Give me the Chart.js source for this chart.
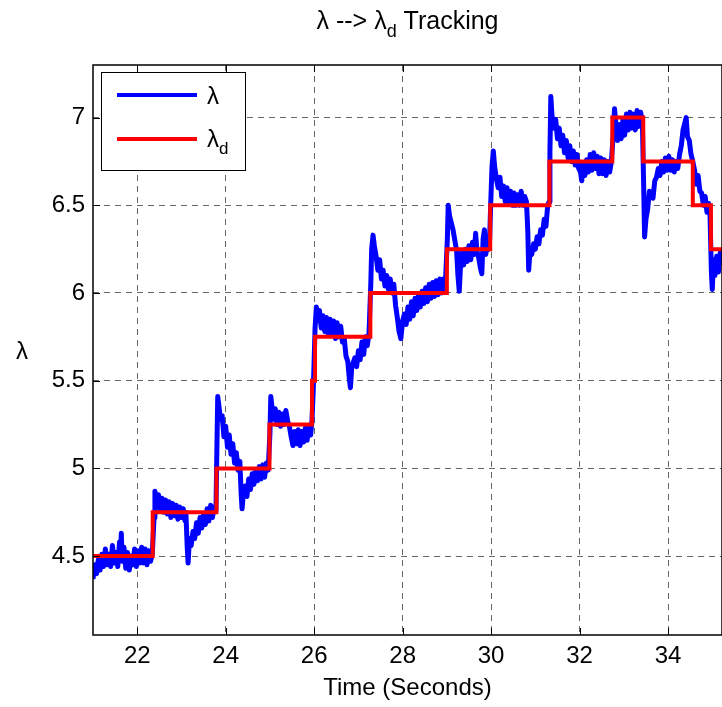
<!DOCTYPE html>
<html>
<head>
<meta charset="utf-8">
<title>Lambda tracking</title>
<script src="https://cdn.jsdelivr.net/npm/chart.js@4.4.1/dist/chart.umd.min.js"></script>
<style>
  html, body { margin: 0; padding: 0; background: #fff; overflow: hidden; }
  #wrap { width: 722px; height: 707px; }
</style>
</head>
<body>
<div id="wrap"><canvas id="trackChart" width="722" height="707"></canvas></div>
<script>
// measured lambda (blue)
const traceTime = [
  21.00, 21.04, 21.08, 21.12, 21.16, 21.20, 21.24, 21.28, 21.32, 21.36,
  21.40, 21.44, 21.48, 21.52, 21.56, 21.60, 21.62, 21.64, 21.66, 21.70,
  21.74, 21.78, 21.82, 21.86, 21.90, 21.94, 21.98, 22.02, 22.06, 22.10,
  22.14, 22.18, 22.22, 22.26, 22.30, 22.34,
  22.38, 22.40, 22.44, 22.48, 22.52, 22.56, 22.60, 22.64, 22.68, 22.72,
  22.76, 22.80, 22.84, 22.88, 22.92, 22.96, 23.00, 23.04, 23.08, 23.10,
  23.13, 23.15, 23.18, 23.22, 23.26, 23.30, 23.34, 23.38, 23.42, 23.46,
  23.50, 23.54, 23.58, 23.62, 23.66, 23.70, 23.74, 23.78,
  23.80, 23.82, 23.85, 23.88, 23.92, 23.96, 24.00, 24.04, 24.08, 24.12,
  24.16, 24.20, 24.24, 24.28, 24.32, 24.35, 24.37, 24.40, 24.44, 24.48,
  24.52, 24.56, 24.60, 24.64, 24.68, 24.72, 24.76, 24.80, 24.84, 24.88,
  24.92, 24.96,
  25.00, 25.02, 25.05, 25.08, 25.12, 25.16, 25.20, 25.24, 25.28, 25.32,
  25.36, 25.40, 25.44, 25.48, 25.52, 25.56, 25.60, 25.64, 25.68, 25.72,
  25.76, 25.80, 25.84, 25.88, 25.92, 25.95,
  25.98, 26.00, 26.02, 26.05, 26.08, 26.12, 26.16, 26.20, 26.24, 26.28,
  26.32, 26.36, 26.40, 26.44, 26.48, 26.52, 26.56, 26.60, 26.64, 26.68,
  26.72, 26.76, 26.80, 26.82, 26.85, 26.88, 26.92, 26.96, 27.00, 27.04,
  27.08, 27.12, 27.16, 27.20, 27.24,
  27.28, 27.30, 27.33, 27.36, 27.40, 27.44, 27.48, 27.52, 27.56, 27.60,
  27.64, 27.68, 27.72, 27.76, 27.80, 27.84, 27.88, 27.92, 27.96, 28.00,
  28.04, 28.08, 28.12, 28.16, 28.20, 28.24, 28.28, 28.32, 28.36, 28.40,
  28.44, 28.48, 28.52, 28.56, 28.60, 28.64, 28.68, 28.72, 28.76, 28.80,
  28.84, 28.88, 28.92, 28.96,
  29.01, 29.03, 29.06, 29.10, 29.14, 29.18, 29.22, 29.25, 29.28, 29.31,
  29.34, 29.38, 29.42, 29.46, 29.50, 29.54, 29.58, 29.62, 29.65, 29.68,
  29.72, 29.76, 29.79, 29.82, 29.85, 29.88, 29.92, 29.96,
  29.99, 30.02, 30.05, 30.08, 30.12, 30.16, 30.20, 30.24, 30.28, 30.32,
  30.36, 30.40, 30.44, 30.48, 30.52, 30.56, 30.60, 30.64, 30.68, 30.72,
  30.76, 30.80, 30.83, 30.85, 30.88, 30.92, 30.96, 31.00, 31.04, 31.08,
  31.12, 31.16, 31.20, 31.24, 31.28, 31.31,
  31.33, 31.35, 31.38, 31.42, 31.46, 31.50, 31.54, 31.58, 31.62, 31.66,
  31.70, 31.74, 31.78, 31.82, 31.86, 31.90, 31.94, 31.98, 32.02, 32.05,
  32.08, 32.12, 32.16, 32.20, 32.24, 32.28, 32.32, 32.36, 32.40, 32.44,
  32.48, 32.52, 32.56, 32.60, 32.64, 32.68, 32.72,
  32.76, 32.79, 32.82, 32.86, 32.90, 32.94, 32.98, 33.02, 33.06, 33.10,
  33.14, 33.18, 33.22, 33.26, 33.30, 33.34, 33.38, 33.42,
  33.45, 33.47, 33.50, 33.54, 33.58, 33.62, 33.66, 33.70, 33.74, 33.78,
  33.82, 33.86, 33.90, 33.94, 33.98, 34.02, 34.06, 34.10, 34.14, 34.18,
  34.22, 34.26, 34.30, 34.34, 34.38, 34.41, 34.44, 34.48, 34.52, 34.56,
  34.60, 34.64, 34.68, 34.72, 34.76, 34.80, 34.84, 34.88, 34.92, 34.95,
  34.98, 35.00, 35.03, 35.06, 35.10, 35.14, 35.18, 35.22
];
const traceLambda = [
  4.37, 4.45, 4.40, 4.48, 4.42, 4.51, 4.44, 4.54, 4.45, 4.51,
  4.44, 4.56, 4.46, 4.52, 4.44, 4.58, 4.49, 4.63, 4.47, 4.55,
  4.43, 4.52, 4.42, 4.50, 4.45, 4.54, 4.44, 4.53, 4.46, 4.55,
  4.46, 4.54, 4.45, 4.53, 4.47, 4.51,
  4.72, 4.87, 4.78, 4.85, 4.76, 4.83, 4.75, 4.82, 4.74, 4.81,
  4.72, 4.80, 4.73, 4.79, 4.71, 4.78, 4.72, 4.77, 4.70, 4.75,
  4.55, 4.46, 4.60, 4.56, 4.64, 4.60, 4.69, 4.63, 4.72, 4.66,
  4.74, 4.68, 4.77, 4.70, 4.79, 4.72, 4.78, 4.76,
  5.10, 5.41, 5.35, 5.28, 5.30, 5.18, 5.24, 5.12, 5.19, 5.08,
  5.14, 5.03, 5.09, 4.99, 5.04, 4.85, 4.77, 4.86, 4.90, 4.84,
  4.94, 4.88, 4.97, 4.91, 4.99, 4.93, 5.01, 4.94, 5.02, 4.95,
  5.03, 4.99,
  5.20, 5.41, 5.34, 5.28, 5.34, 5.25, 5.32, 5.24, 5.31, 5.25,
  5.33, 5.27, 5.24, 5.18, 5.13, 5.21, 5.14, 5.22, 5.13, 5.21,
  5.15, 5.23, 5.16, 5.24, 5.19, 5.27,
  5.45, 5.62, 5.80, 5.92, 5.84, 5.90, 5.80, 5.87, 5.78, 5.86,
  5.76, 5.85, 5.77, 5.84, 5.74, 5.83, 5.75, 5.81, 5.72, 5.74,
  5.64, 5.61, 5.50, 5.46, 5.58, 5.60, 5.63, 5.58, 5.67, 5.62,
  5.72, 5.65, 5.75, 5.70, 5.77,
  6.05, 6.25, 6.33, 6.27, 6.21, 6.13, 6.19, 6.08, 6.13, 6.04,
  6.10, 6.02, 6.08, 6.00, 6.05, 5.93, 5.86, 5.78, 5.74, 5.84,
  5.88, 5.82, 5.92, 5.85, 5.95, 5.87, 5.97, 5.90, 5.99, 5.92,
  6.01, 5.94, 6.03, 5.95, 6.05, 5.97, 6.06, 5.98, 6.07, 5.99,
  6.08, 6.00, 6.08, 6.02,
  6.30, 6.50, 6.44, 6.40, 6.36, 6.30, 6.24, 6.10, 6.01, 6.16,
  6.24, 6.16, 6.25, 6.18, 6.27, 6.19, 6.29, 6.22, 6.34, 6.24,
  6.20, 6.14, 6.11, 6.31, 6.36, 6.22, 6.29, 6.25,
  6.50, 6.72, 6.81, 6.72, 6.65, 6.60, 6.66, 6.55, 6.61, 6.52,
  6.60, 6.51, 6.58, 6.50, 6.57, 6.50, 6.56, 6.50, 6.58, 6.50,
  6.55, 6.52, 6.35, 6.13, 6.24, 6.22, 6.28, 6.25, 6.32, 6.28,
  6.36, 6.33, 6.42, 6.38, 6.50, 6.52,
  6.80, 7.12, 7.00, 6.94, 6.99, 6.88, 6.94, 6.84, 6.90, 6.80,
  6.87, 6.77, 6.84, 6.75, 6.81, 6.73, 6.79, 6.71, 6.69, 6.64,
  6.74, 6.67, 6.76, 6.69, 6.79, 6.70, 6.80, 6.71, 6.78, 6.68,
  6.77, 6.68, 6.76, 6.67, 6.75, 6.69, 6.75,
  6.90, 7.05, 6.97, 6.87, 6.96, 6.88, 6.99, 6.90, 7.02, 6.93,
  7.03, 6.94, 7.02, 6.93, 7.04, 6.95, 7.03, 6.98,
  6.60, 6.32, 6.42, 6.48, 6.58, 6.57, 6.54, 6.64, 6.66, 6.71,
  6.67, 6.75, 6.69, 6.77, 6.70, 6.78, 6.70, 6.76, 6.69, 6.75,
  6.71, 6.79, 6.84, 6.93, 6.97, 7.00, 6.89, 6.87, 6.79, 6.75,
  6.70, 6.62, 6.67, 6.58, 6.57, 6.50, 6.55, 6.46, 6.51, 6.44,
  6.12, 6.02, 6.19, 6.10, 6.21, 6.12, 6.23, 6.16
];

// desired lambda (red), each value holds until the next step time
const stepTime = [21.00, 22.35, 23.79, 24.99, 25.95, 26.02, 27.27, 29.00, 29.98, 31.32, 32.74, 33.44, 34.56, 34.97, 35.22];
const stepLambda = [4.50, 4.75, 5.00, 5.25, 5.50, 5.75, 6.00, 6.25, 6.50, 6.75, 7.00, 6.75, 6.50, 6.25, 6.25];

const xTicks = [22, 24, 26, 28, 30, 32, 34];
const yTicks = [4.5, 5, 5.5, 6, 6.5, 7];
const xRange = [21, 35.22];
const yRange = [4.05, 7.3];

const FONT = '"Liberation Sans", Arial, Helvetica, sans-serif';
const TEXT_SIZE = 24;
const TITLE_SIZE = 25;

function toPoints(xs, ys) {
  return xs.map((x, i) => ({ x: x, y: ys[i] }));
}

// draws text runs, some of them as subscripts
function drawRuns(ctx, runs, x, y, size, align) {
  const subSize = Math.round(size * 0.72);
  let total = 0;
  runs.forEach(r => {
    ctx.font = (r.sub ? subSize : size) + 'px ' + FONT;
    r.w = ctx.measureText(r.t).width;
    total += r.w;
  });
  let cx = align === 'center' ? x - total / 2 : x;
  ctx.textAlign = 'left';
  ctx.textBaseline = 'alphabetic';
  runs.forEach(r => {
    ctx.font = (r.sub ? subSize : size) + 'px ' + FONT;
    ctx.fillText(r.t, cx, r.sub ? y + size * 0.3 : y);
    cx += r.w;
  });
}

// axes box, inward ticks, title, y label and legend
const axesDecor = {
  id: 'axesDecor',
  afterDatasetsDraw(chart) {
    const ctx = chart.ctx;
    const a = chart.chartArea;
    const xs = chart.scales.x, ys = chart.scales.y;
    ctx.save();
    ctx.strokeStyle = '#000';
    ctx.lineWidth = 1.5;
    ctx.strokeRect(a.left, a.top, a.right - a.left, a.bottom - a.top);

    ctx.lineWidth = 1;
    ctx.beginPath();
    xTicks.forEach(v => {
      const px = Math.round(xs.getPixelForValue(v)) + 0.5;
      ctx.moveTo(px, a.bottom); ctx.lineTo(px, a.bottom - 7);
      ctx.moveTo(px, a.top); ctx.lineTo(px, a.top + 7);
    });
    yTicks.forEach(v => {
      const py = Math.round(ys.getPixelForValue(v)) + 0.5;
      ctx.moveTo(a.left, py); ctx.lineTo(a.left + 7, py);
    });
    ctx.stroke();

    ctx.fillStyle = '#000';
    drawRuns(ctx, [{ t: 'λ --> λ' }, { t: 'd', sub: true }, { t: ' Tracking' }],
      (a.left + a.right) / 2, 29, TITLE_SIZE, 'center');
    drawRuns(ctx, [{ t: 'λ' }], 22, 359, TEXT_SIZE, 'center');

    // legend
    const lx = 101, ly = 72, lw = 144, lh = 98;
    ctx.fillStyle = '#fff';
    ctx.fillRect(lx, ly, lw, lh);
    ctx.strokeStyle = '#000';
    ctx.lineWidth = 1;
    ctx.strokeRect(lx + 0.5, ly + 0.5, lw, lh);
    ctx.lineWidth = 4;
    ctx.strokeStyle = '#0000ff';
    ctx.beginPath(); ctx.moveTo(117, 95); ctx.lineTo(197, 95); ctx.stroke();
    ctx.strokeStyle = '#ff0000';
    ctx.beginPath(); ctx.moveTo(117, 139); ctx.lineTo(197, 139); ctx.stroke();
    ctx.fillStyle = '#000';
    drawRuns(ctx, [{ t: 'λ' }], 207, 104, TEXT_SIZE, 'left');
    drawRuns(ctx, [{ t: 'λ' }, { t: 'd', sub: true }], 207, 147, TEXT_SIZE, 'left');
    ctx.restore();
  }
};

Chart.defaults.font.family = FONT;
Chart.defaults.font.size = TEXT_SIZE;
Chart.defaults.color = '#000';

new Chart(document.getElementById('trackChart'), {
  type: 'line',
  data: {
    datasets: [{
      label: 'λd',
      data: toPoints(stepTime, stepLambda),
      borderColor: '#ff0000',
      borderWidth: 4,
      stepped: 'before',
      pointRadius: 0,
      fill: false
    }, {
      label: 'λ',
      data: toPoints(traceTime, traceLambda),
      borderColor: '#0000ff',
      borderWidth: 5,
      borderJoinStyle: 'round',
      tension: 0,
      pointRadius: 0,
      fill: false
    }]
  },
  options: {
    responsive: false,
    animation: false,
    devicePixelRatio: 1,
    events: [],
    layout: { padding: { top: 65, left: 0, right: 0, bottom: 0 } },
    plugins: {
      legend: { display: false },
      title: { display: false },
      tooltip: { enabled: false }
    },
    scales: {
      x: {
        type: 'linear',
        min: xRange[0],
        max: xRange[1],
        afterBuildTicks: s => { s.ticks = xTicks.map(v => ({ value: v })); },
        afterFit: s => { s.height = 72; },
        ticks: { padding: 7, maxRotation: 0, callback: v => String(v) },
        grid: { color: 'rgba(0,0,0,0.6)', lineWidth: 1, drawTicks: false },
        border: { display: false, dash: [6, 5] },
        title: { display: true, text: 'Time (Seconds)', padding: { top: 0, bottom: 4 } }
      },
      y: {
        type: 'linear',
        min: yRange[0],
        max: yRange[1],
        afterBuildTicks: s => { s.ticks = yTicks.map(v => ({ value: v })); },
        afterFit: s => { s.width = 93; },
        ticks: { padding: 8, callback: v => String(v) },
        grid: { color: 'rgba(0,0,0,0.6)', lineWidth: 1, drawTicks: false },
        border: { display: false, dash: [6, 5] }
      }
    }
  },
  plugins: [axesDecor]
});
</script>
</body>
</html>
